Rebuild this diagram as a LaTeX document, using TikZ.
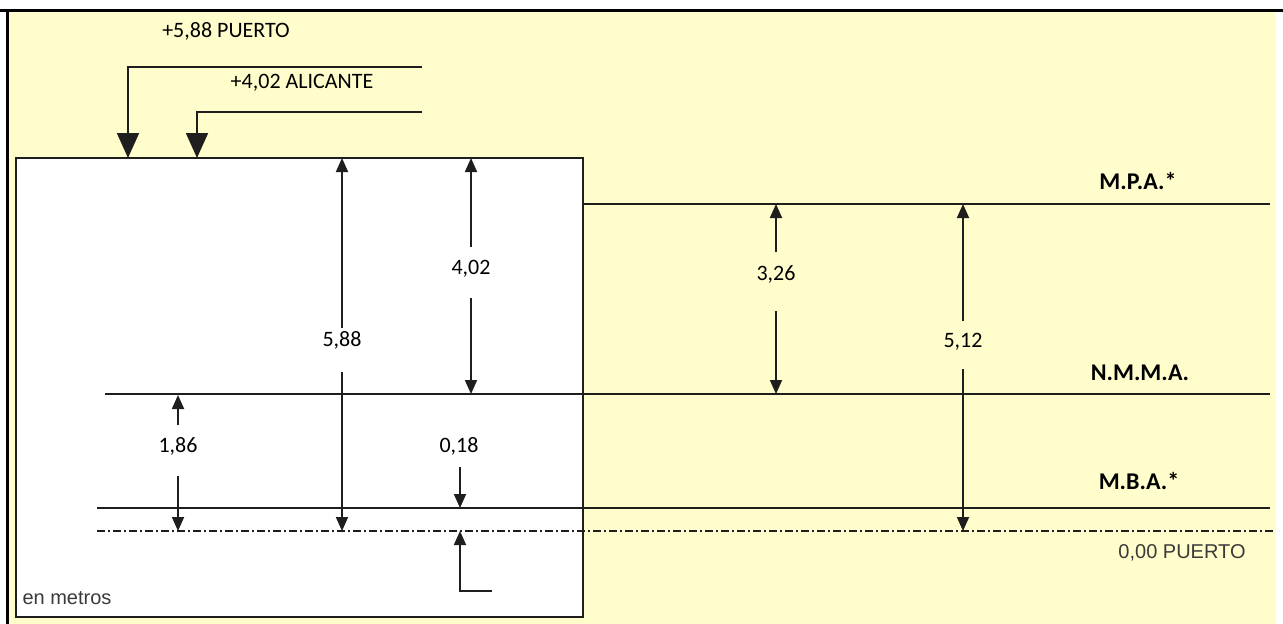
\documentclass[tikz,border=0pt]{standalone}
\usepackage{fontspec}
\setmainfont{Carlito}
\newfontfamily\arialf{Liberation Sans}
\usetikzlibrary{arrows.meta}
\definecolor{bgyellow}{HTML}{FEFDCB}
\definecolor{ink}{HTML}{1E1E1E}
\definecolor{greytxt}{HTML}{3A3A3A}
\begin{document}
\begin{tikzpicture}[x=1pt,y=-1pt,
  lvl/.style={draw=ink,line width=1.8pt},
  dimarrow/.style={draw=ink,line width=1.8pt,-{Triangle[width=12pt,length=14pt]}},
  bigarrow/.style={draw=ink,line width=1.8pt,-{Triangle[width=22pt,length=25pt]}},
  num/.style={font=\fontsize{22}{26}\selectfont,text=black,inner sep=0pt},
  lab/.style={font=\fontsize{24}{28}\selectfont\bfseries,text=black,inner sep=0pt},
  grey/.style={font=\arialf\fontsize{20}{24}\selectfont,text=greytxt,inner sep=0pt},
  dashdot/.style={draw=ink,line width=1.3pt,dash pattern=on 8pt off 3pt on 2pt off 3pt}
]
\useasboundingbox (0,0) rectangle (1283,624);
% background
\fill[bgyellow] (8,11) rectangle (1276,624);
\draw[black,line width=3pt] (0,10) -- (1283,10);
\draw[black,line width=3pt] (7,10) -- (7,624);
% white block
\filldraw[fill=white,draw=ink,line width=1.8pt] (16,158) rectangle (583,617);
% level lines
\draw[lvl] (583,204) -- (1270,204);
\draw[lvl] (105,394) -- (1270,394);
\draw[lvl] (97,508) -- (1270,508);
\draw[dashdot] (97,531) -- (1274,531);
% labels of levels
\node[lab] (mpa) at (1138,181) {M.P.A.*};
\node[lab] (nmma) at (1140,373) {N.M.M.A.};
\node[lab] (mba) at (1139,481) {M.B.A.*};
\node[grey] (cero) at (1182,553) {0,00 PUERTO};
\node[grey] (metros) at (67,598) {en metros};
% top references
\node[num] (p588) at (226,31) {+5,88 PUERTO};
\node[num] (a402) at (302,83) {+4,02 ALICANTE};
\coordinate (p588s) at (422,67);
\coordinate (p588c) at (128,67);
\coordinate (p588t) at (128,158);
\coordinate (a402s) at (422,112);
\coordinate (a402c) at (197,112);
\coordinate (a402t) at (197,158);
\draw[bigarrow] (p588s) -- (p588c) -- (p588t);
\draw[bigarrow] (a402s) -- (a402c) -- (a402t);
% 5,88
\node[num] (d588) at (342,340) {5,88};
\coordinate (d588a) at (342,328); \coordinate (d588b) at (342,158);
\coordinate (d588c) at (342,372); \coordinate (d588d) at (342,531);
\draw[dimarrow] (d588a) -- (d588b);
\draw[dimarrow] (d588c) -- (d588d);
% 4,02
\node[num] (d402) at (471,269) {4,02};
\coordinate (d402a) at (471,247); \coordinate (d402b) at (471,158);
\coordinate (d402c) at (471,298); \coordinate (d402d) at (471,394);
\draw[dimarrow] (d402a) -- (d402b);
\draw[dimarrow] (d402c) -- (d402d);
% 3,26
\node[num] (d326) at (776,274) {3,26};
\coordinate (d326a) at (776,252); \coordinate (d326b) at (776,204);
\coordinate (d326c) at (776,311); \coordinate (d326d) at (776,394);
\draw[dimarrow] (d326a) -- (d326b);
\draw[dimarrow] (d326c) -- (d326d);
% 5,12
\node[num] (d512) at (963,342) {5,12};
\coordinate (d512a) at (963,321); \coordinate (d512b) at (963,204);
\coordinate (d512c) at (963,369); \coordinate (d512d) at (963,531);
\draw[dimarrow] (d512a) -- (d512b);
\draw[dimarrow] (d512c) -- (d512d);
% 1,86
\node[num] (d186) at (178,446) {1,86};
\coordinate (d186a) at (178,425); \coordinate (d186b) at (178,395);
\coordinate (d186c) at (178,476); \coordinate (d186d) at (178,531);
\draw[dimarrow] (d186a) -- (d186b);
\draw[dimarrow] (d186c) -- (d186d);
% 0,18
\node[num] (d018) at (459,446) {0,18};
\coordinate (d018a) at (460,467); \coordinate (d018b) at (460,508);
\coordinate (d018c) at (492,591); \coordinate (d018k) at (460,591);
\coordinate (d018d) at (460,531);
\draw[dimarrow] (d018a) -- (d018b);
\draw[dimarrow] (d018c) -- (d018k) -- (d018d);
\end{tikzpicture}
\end{document}
